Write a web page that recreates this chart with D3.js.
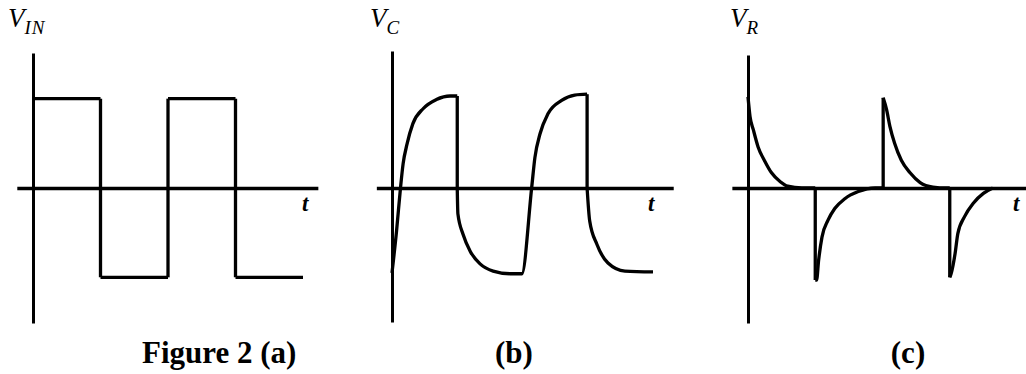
<!DOCTYPE html>
<html>
<head>
<meta charset="utf-8">
<script src="https://cdn.jsdelivr.net/npm/d3@7"></script>
<style>
  body { margin: 0; background: #fff; }
  svg { display: block; }
  text { font-family: "Liberation Serif", "Times New Roman", Times, serif; }
</style>
</head>
<body>
<div id="chart"></div>
<script>
// time in half-periods, voltage in units of the input amplitude
var vinData = [[0, 1], [1, 1], [1, -1], [2, -1], [2, 1], [3, 1], [3, -1], [4, -1]];

var vcData = [
  [0, -0.95], [0.07, -0.48], [0.13, 0], [0.17, 0.27], [0.23, 0.49], [0.32, 0.72],
  [0.48, 0.89], [0.68, 0.99], [0.89, 1.03], [1.0, 1.03],
  [1.0, 0], [1.01, -0.29], [1.09, -0.52], [1.2, -0.71], [1.35, -0.85], [1.55, -0.93],
  [1.81, -0.96], [1.99, -0.96],
  [2.14, 0], [2.19, 0.34], [2.27, 0.61], [2.39, 0.83], [2.6, 0.98], [2.8, 1.04], [2.99, 1.05],
  [2.99, 0], [3.03, -0.37], [3.14, -0.63], [3.31, -0.84], [3.57, -0.93], [4.0, -0.94]
];

var vrData = [
  [0, 1.02], [0.03, 0.80], [0.08, 0.65], [0.15, 0.46], [0.25, 0.30], [0.35, 0.17],
  [0.48, 0.07], [0.59, 0.02], [0.8, 0], [1.0, 0],
  [1.0, -1.03], [1.02, -1.03], [1.05, -0.81], [1.10, -0.55], [1.19, -0.36], [1.29, -0.23],
  [1.44, -0.12], [1.64, -0.04], [1.89, 0], [2.01, 0],
  [2.01, 1.01], [2.06, 0.88], [2.11, 0.69], [2.18, 0.50], [2.28, 0.31], [2.41, 0.17],
  [2.56, 0.06], [2.75, 0.01], [2.95, 0], [3.0, 0],
  [3.0, -1.0], [3.02, -0.96], [3.08, -0.73], [3.12, -0.51], [3.22, -0.32], [3.35, -0.17],
  [3.5, -0.06], [3.64, 0]
];

var axisLabels = [["V", "IN"], ["V", "C"], ["V", "R"]];
var captions = ["Figure 2 (a)", "(b)", "(c)"];
var timeLabel = "t";

var width = 1026, height = 374;

var svg = d3.select("#chart").append("svg")
    .attr("width", width)
    .attr("height", height);

var panels = [
  {data: vinData, left: 33, right: 303, tMin: -0.24, tMax: 4.22, top: 53, bottom: 323, label: axisLabels[0], lx: 8, tx: 302, cap: captions[0], cx: 142, anchor: "start"},
  {data: vcData, left: 392, right: 653, tMin: -0.24, tMax: 4.31, top: 51, bottom: 322, label: axisLabels[1], lx: 370, tx: 648, cap: captions[1], cx: 514, anchor: "middle"},
  {data: vrData, left: 748, right: 1017, tMin: -0.24, tMax: 4.14, top: 55, bottom: 323, label: axisLabels[2], lx: 730, tx: 1013, cap: captions[2], cx: 908, anchor: "middle"}
];

// split a trace wherever it jumps vertically, so smooth parts stay smooth
function pieces(pts) {
  var out = [], cur = [pts[0]];
  for (var i = 1; i < pts.length; i++) {
    if (pts[i][0] === pts[i - 1][0]) {
      out.push(cur);
      out.push([pts[i - 1], pts[i]]);
      cur = [pts[i]];
    } else {
      cur.push(pts[i]);
    }
  }
  out.push(cur);
  return out;
}

panels.forEach(function(p, k) {
  var x = d3.scaleLinear().domain([0, 4]).range([p.left, p.right]);
  var y = d3.scaleLinear().domain([-1.5, 1.5]).range([322, 54]);
  var g = svg.append("g");

  // horizontal time axis through zero
  var xa = x.copy().domain([p.tMin, p.tMax]).range([x(p.tMin), x(p.tMax)]);
  var xaxis = g.append("g")
      .attr("transform", "translate(0," + y(0) + ")")
      .call(d3.axisBottom(xa).ticks(0).tickSizeOuter(0));
  xaxis.select(".domain").attr("stroke", "#000").attr("stroke-width", 3.5);

  // vertical voltage axis
  var ya = d3.scaleLinear().domain([-1.5, 1.5]).range([p.bottom, p.top]);
  var yaxis = g.append("g")
      .attr("transform", "translate(" + x(0) + ",0)")
      .call(d3.axisLeft(ya).ticks(0).tickSizeOuter(0));
  yaxis.select(".domain").attr("stroke", "#000").attr("stroke-width", 3);

  var line = d3.line()
      .x(function(d) { return x(d[0]); })
      .y(function(d) { return y(d[1]); })
      .curve(k == 0 ? d3.curveLinear : d3.curveMonotoneX);

  g.selectAll("path.trace")
      .data(pieces(p.data))
      .enter().append("path")
      .attr("class", "trace")
      .attr("d", line)
      .attr("fill", "none")
      .attr("stroke", "#000")
      .attr("stroke-width", 3.3)
      .attr("stroke-linejoin", "round");

  var lab = g.append("text")
      .attr("x", p.lx)
      .attr("y", 27)
      .style("font-style", "italic")
      .style("font-size", "27px");
  lab.append("tspan").text(p.label[0]);
  lab.append("tspan")
      .attr("dy", 7)
      .attr("dx", 0)
      .style("font-size", "19px")
      .style("letter-spacing", "1px")
      .text(p.label[1]);

  g.append("text")
      .attr("x", p.tx)
      .attr("y", 211)
      .style("font-style", "italic")
      .style("font-weight", "bold")
      .style("font-size", "23px")
      .text(timeLabel);

  g.append("text")
      .attr("x", p.cx)
      .attr("y", 363)
      .attr("text-anchor", p.anchor)
      .style("font-weight", "bold")
      .style("font-size", "31px")
      .text(p.cap);
});
</script>
</body>
</html>
